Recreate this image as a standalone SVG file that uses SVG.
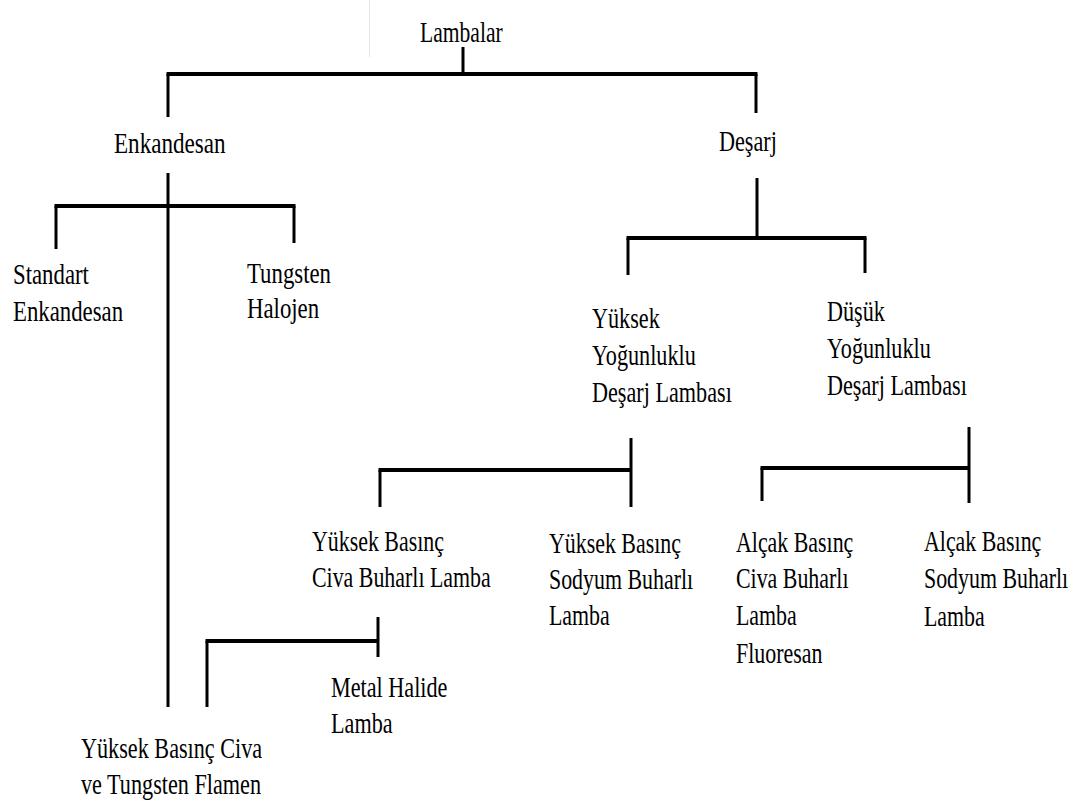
<svg xmlns="http://www.w3.org/2000/svg" width="1086" height="807" viewBox="0 0 1086 807">
<style>
text{font-family:'Liberation Serif','DejaVu Serif',serif;font-size:30px;fill:#000}
.h{stroke:#000;stroke-width:4;fill:none}
.v{stroke:#000;stroke-width:3;fill:none}
</style>
<rect width="1086" height="807" fill="#fff"/>
<line x1="369.5" y1="0" x2="369.5" y2="57" stroke="#e6e6e6" stroke-width="1"/>
<g id="connectors">
<line class="v" x1="463" y1="47" x2="463" y2="74"/>
<line class="h" x1="166.5" y1="74" x2="757.5" y2="74"/>
<line class="v" x1="168" y1="74" x2="168" y2="117"/>
<line class="v" x1="756" y1="74" x2="756" y2="113"/>
<line class="v" x1="168" y1="173" x2="168" y2="707"/>
<line class="h" x1="54.5" y1="206" x2="295.5" y2="206"/>
<line class="v" x1="56" y1="206" x2="56" y2="249"/>
<line class="v" x1="294" y1="206" x2="294" y2="243"/>
<line class="v" x1="757" y1="178" x2="757" y2="238"/>
<line class="h" x1="626.5" y1="238" x2="866.5" y2="238"/>
<line class="v" x1="628" y1="238" x2="628" y2="275"/>
<line class="v" x1="865" y1="238" x2="865" y2="273"/>
<line class="v" x1="631" y1="438" x2="631" y2="507"/>
<line class="h" x1="378.5" y1="470" x2="631" y2="470"/>
<line class="v" x1="380" y1="470" x2="380" y2="507"/>
<line class="v" x1="969" y1="427" x2="969" y2="503"/>
<line class="h" x1="760.5" y1="468" x2="969" y2="468"/>
<line class="v" x1="762" y1="468" x2="762" y2="501"/>
<line class="v" x1="378" y1="617" x2="378" y2="657"/>
<line class="h" x1="205.5" y1="641" x2="378" y2="641"/>
<line class="v" x1="207" y1="641" x2="207" y2="707"/>
</g>
<g id="n-lambalar"><text transform="translate(420,42) scale(0.72,1)">Lambalar</text></g>
<g id="n-enkandesan"><text transform="translate(114,153) scale(0.77,1)">Enkandesan</text></g>
<g id="n-desarj"><text transform="translate(719,151) scale(0.74,1)">Deşarj</text></g>
<g id="n-standart"><text transform="translate(13,284) scale(0.76,1)"><tspan x="0">Standart</tspan><tspan x="0" dy="37">Enkandesan</tspan></text></g>
<g id="n-tungsten"><text transform="translate(247,283) scale(0.76,1)"><tspan x="0">Tungsten</tspan><tspan x="0" dy="35">Halojen</tspan></text></g>
<g id="n-yyd"><text transform="translate(592,328) scale(0.74,1)"><tspan x="0">Yüksek</tspan><tspan x="0" dy="37">Yoğunluklu</tspan><tspan x="0" dy="37">Deşarj Lambası</tspan></text></g>
<g id="n-dyd"><text transform="translate(827,321) scale(0.74,1)"><tspan x="0">Düşük</tspan><tspan x="0" dy="37">Yoğunluklu</tspan><tspan x="0" dy="37">Deşarj Lambası</tspan></text></g>
<g id="n-ybcb"><text transform="translate(312,551) scale(0.73,1)"><tspan x="0">Yüksek Basınç</tspan><tspan x="0" dy="36">Civa Buharlı Lamba</tspan></text></g>
<g id="n-ybsb"><text transform="translate(549,553) scale(0.73,1)"><tspan x="0">Yüksek Basınç</tspan><tspan x="0" dy="36">Sodyum Buharlı</tspan><tspan x="0" dy="36">Lamba</tspan></text></g>
<g id="n-abcb"><text transform="translate(736,552) scale(0.73,1)"><tspan x="0">Alçak Basınç</tspan><tspan x="0" dy="36">Civa Buharlı</tspan><tspan x="0" dy="37">Lamba</tspan><tspan x="0" dy="38">Fluoresan</tspan></text></g>
<g id="n-absb"><text transform="translate(924,551) scale(0.73,1)"><tspan x="0">Alçak Basınç</tspan><tspan x="0" dy="37">Sodyum Buharlı</tspan><tspan x="0" dy="38">Lamba</tspan></text></g>
<g id="n-metal"><text transform="translate(331,697) scale(0.74,1)"><tspan x="0">Metal Halide</tspan><tspan x="0" dy="36">Lamba</tspan></text></g>
<g id="n-ybctf"><text transform="translate(81,758) scale(0.74,1)"><tspan x="0">Yüksek Basınç Civa</tspan><tspan x="0" dy="36">ve Tungsten Flamen</tspan></text></g>
</svg>
